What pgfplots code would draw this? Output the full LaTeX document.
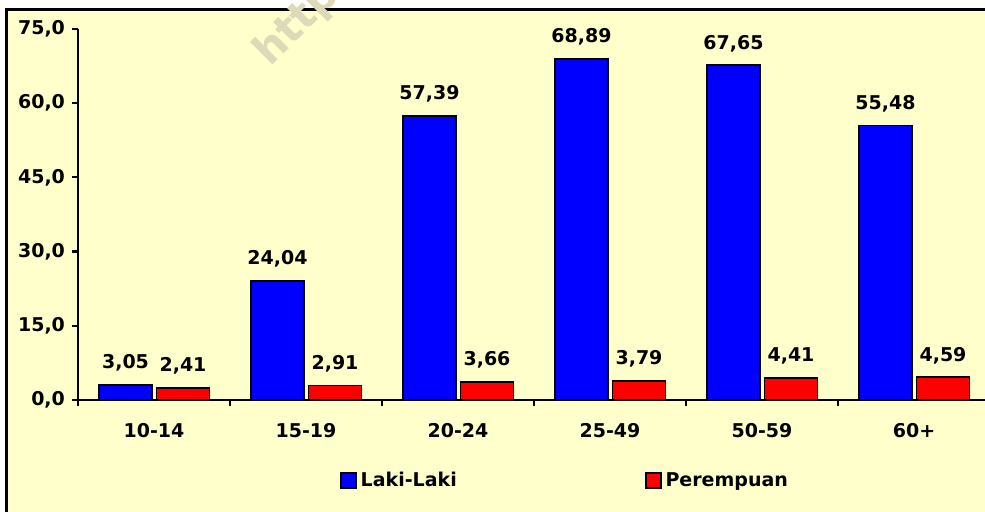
\documentclass[border=0pt]{standalone}
\usepackage{pgfplots}
\pgfplotsset{compat=1.18}
\usepackage{fontspec}
\setmainfont{DejaVu Sans}
\definecolor{bgyellow}{HTML}{FFFFCC}
\definecolor{laki}{HTML}{0000FF}
\definecolor{perem}{HTML}{FF0000}
\definecolor{wmark}{HTML}{DDDAB8}
\begin{document}
\begin{tikzpicture}
% chart area (1px = 0.5pt, origin at the axis' lower left corner)
\fill[bgyellow] (-35.5pt,-60pt) rectangle (470pt,195pt);
\draw[line width=1.5pt] (-35.5pt,-60pt) rectangle (470pt,195pt);
\node[rotate=45, anchor=base west, text=wmark, font=\bfseries\fontsize{21}{21}\selectfont, inner sep=0pt]
  at (96pt,166pt) {http};
\begin{axis}[
    at={(0pt,0pt)}, anchor=south west,
    scale only axis,
    width=456pt, height=185.5pt,
    ybar,
    bar width=26.5pt,
    xmin=-0.5, xmax=5.5,
    ymin=0, ymax=75,
    ytick={0,15,...,75},
    xtick={0,...,5},
    xticklabels={10-14,15-19,20-24,25-49,50-59,60+},
    minor xtick={-0.5,0.5,...,5.5},
    major x tick style={draw=none},
    minor tick length=3pt,
    major tick length=3pt,
    tick align=outside,
    tick style={black, line width=1.1pt},
    axis x line*=bottom,
    axis y line*=left,
    axis line style={line width=1.2pt, -},
    clip=false,
    font=\bfseries\fontsize{9.5}{11}\selectfont,
    /pgf/number format/assume math mode=true,
    yticklabel style={/pgf/number format/fixed, /pgf/number format/fixed zerofill,
        /pgf/number format/precision=1, /pgf/number format/use comma},
    xticklabel style={yshift=-5pt},
    nodes near coords,
    nodes near coords style={/pgf/number format/fixed, /pgf/number format/fixed zerofill,
        /pgf/number format/precision=2, /pgf/number format/use comma},
    every node near coord/.append style={yshift=3pt},
    legend columns=2,
    legend style={draw=none, fill=none, at={(0.535,-0.218)}, anchor=center,
        /tikz/every even column/.append style={column sep=92pt}},
    legend image code/.code={\draw[#1, line width=0.9pt] (0pt,-3.75pt) rectangle (7.5pt,3.75pt);},
]
\addplot[fill=laki, draw=black, line width=0.9pt, bar shift=-14.25pt] coordinates {
    (0,3.05) (1,24.04) (2,57.39) (3,68.89) (4,67.65) (5,55.48)};
\addplot[fill=perem, draw=black, line width=0.9pt, bar shift=14.5pt] coordinates {
    (0,2.41) (1,2.91) (2,3.66) (3,3.79) (4,4.41) (5,4.59)};
\legend{Laki-Laki, Perempuan}
\end{axis}
\pgfresetboundingbox
\useasboundingbox (-39pt,-56pt) rectangle (453.5pt,200pt);
\end{tikzpicture}
\end{document}
